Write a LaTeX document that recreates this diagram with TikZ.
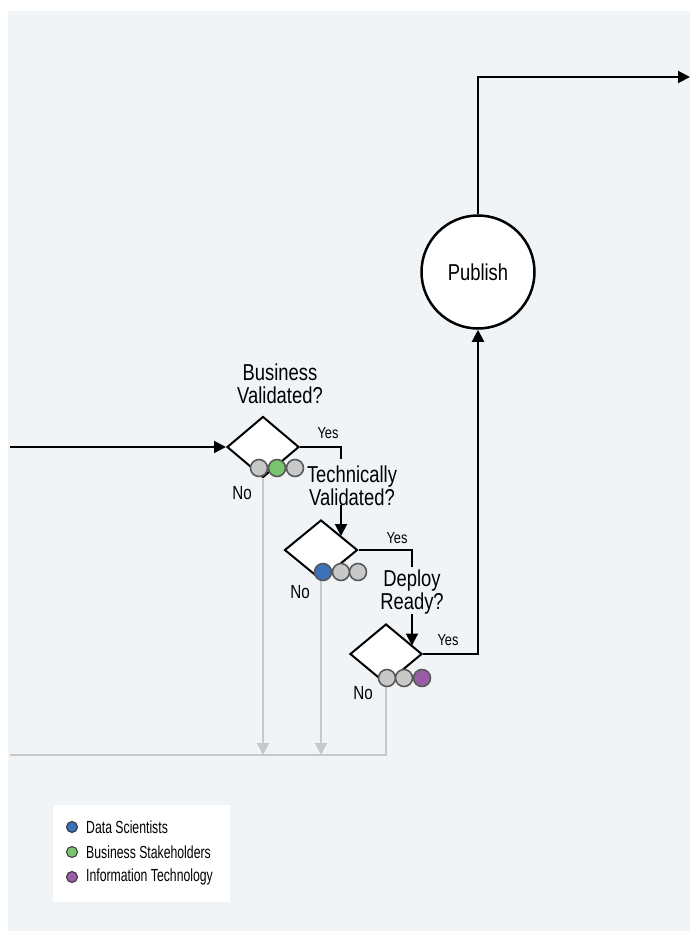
\documentclass[tikz,border=0pt]{standalone}
\usepackage{fontspec}
\setmainfont{Liberation Sans}[FakeStretch=0.80]
\newfontfamily\legfont{Liberation Sans}[FakeStretch=0.70]
\usetikzlibrary{shapes.geometric,arrows.meta,calc}
\definecolor{bgc}{HTML}{F0F4F7}
\definecolor{grayc}{HTML}{C8C8C8}
\definecolor{rimc}{HTML}{5A5A5A}
\definecolor{bluec}{HTML}{3B71B9}
\definecolor{greenc}{HTML}{7BC46F}
\definecolor{purplec}{HTML}{9A5CA6}
\tikzset{
  dec/.style={diamond, draw=black, fill=white, line width=2pt, inner sep=0pt, minimum width=72pt, minimum height=61pt},
  dot/.style={circle, draw=rimc, line width=1.6pt, minimum size=17pt, inner sep=0pt},
  ldot/.style={circle, draw=black!80, line width=1pt, minimum size=11pt, inner sep=0pt},
  flow/.style={line width=2pt, black},
  flowarr/.style={flow, -{Triangle[length=12pt,width=12pt]}},
  grayline/.style={line width=2pt, grayc},
  grayarr/.style={grayline, -{Triangle[length=12pt,width=12pt]}},
  qlabel/.style={align=center, font=\fontsize{23}{23}\selectfont, inner sep=0pt},
  small/.style={font=\fontsize{16}{18}\selectfont, inner sep=0pt},
  nolabel/.style={font=\fontsize{19}{21}\selectfont, inner sep=0pt},
  legtext/.style={font=\legfont\fontsize{17.5}{19}\selectfont, anchor=west, inner sep=0pt}
}
\begin{document}
\begin{tikzpicture}[x=1pt,y=-1pt]
\useasboundingbox (0,0) rectangle (690,931);
\fill[white] (0,0) rectangle (690,931);
\fill[bgc] (8,11) rectangle (690,931);

% decision diamonds
\node[dec] (d1) at (263,447) {};
\node[dec, minimum width=73pt, minimum height=60pt] (d2) at (321,550) {};
\node[dec, minimum height=60pt] (d3) at (386,654) {};

% publish
\node[circle, draw=black, fill=white, line width=2.5pt, minimum size=113pt, inner sep=0pt,
      font=\fontsize{23}{23}\selectfont] (pub) at (478,272) {Publish};

% question labels
\node[qlabel] (bv) at (280,384) {Business\\Validated?};
\node[qlabel] (tv) at (352,486) {Technically\\Validated?};
\node[qlabel] (dr) at (412,592) {Deploy\\Ready?};

% coordinates
\coordinate (inL) at (10,447);
\coordinate (y1) at (341,459);
\coordinate (y2) at (412,567);
\coordinate (d2in) at (341,536);
\coordinate (d3in) at (412,645.5);
\coordinate (outR) at (690,77);
\coordinate (bus) at (386,755);
\coordinate (busL) at (10,755);

% black flow
\draw[flowarr] (inL) -- (d1.west);
\draw[flow] (d1.east) -| (y1);
\draw[flowarr] (tv.south -| d2in) ++(0,-1) -- (d2in);
\draw[flow] (d2.east) -| (y2);
\draw[flowarr] (dr.south -| d3in) -- (d3in);
\draw[flowarr] (d3.east) -| (pub.south);
\draw[flowarr] (pub.north) |- (outR);

% gray "No" paths
\draw[grayarr] (d1.south) -- (d1.south |- bus);
\draw[grayarr] (d2.south) -- (d2.south |- bus);
\draw[grayline] (d3.south) -- (bus) -- (busL);

% role dots
\node[dot, fill=grayc] (c11) at (259,468) {};
\node[dot, fill=greenc] (c12) at (277,468) {};
\node[dot, fill=grayc] (c13) at (295,468) {};
\node[dot, fill=bluec] (c21) at (323,572) {};
\node[dot, fill=grayc] (c22) at (341,572) {};
\node[dot, fill=grayc] (c23) at (358,572) {};
\node[dot, fill=grayc] (c31) at (387,678) {};
\node[dot, fill=grayc] (c32) at (404,678) {};
\node[dot, fill=purplec] (c33) at (422,678) {};

% yes / no
\node[small] (yes1) at (328,433) {Yes};
\node[small] (yes2) at (397,538) {Yes};
\node[small] (yes3) at (448,640) {Yes};
\node[nolabel] (no1) at (242,493) {No};
\node[nolabel] (no2) at (300,592) {No};
\node[nolabel] (no3) at (363,693) {No};

% legend
\node[fill=white, minimum width=177pt, minimum height=97pt, inner sep=0pt] (leg) at (141.5,853.5) {};
\node[ldot, fill=bluec] (l1) at (72,827) {};
\node[ldot, fill=greenc] (l2) at (72,852) {};
\node[ldot, fill=purplec] (l3) at (72,877) {};
\node[legtext] (t1) at (86,827) {Data Scientists};
\node[legtext] (t2) at (86,852) {Business Stakeholders};
\node[legtext] (t3) at (86,877) {Information Technology};
\end{tikzpicture}
\end{document}
